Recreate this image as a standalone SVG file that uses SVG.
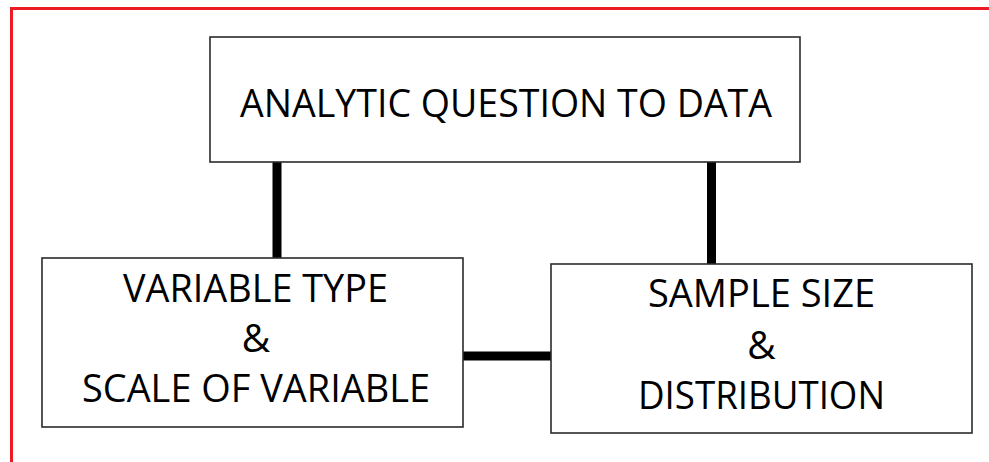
<svg xmlns="http://www.w3.org/2000/svg" width="989" height="462" viewBox="0 0 989 462">
<style>
.box{fill:#fff;stroke:#2b2b2b;stroke-width:1.6}
.lbl{font-family:"Open Sans","Liberation Sans",sans-serif;font-size:39px;fill:#000;text-anchor:middle}
.con{stroke:#000;stroke-width:9;fill:none}
</style>
<rect x="0" y="0" width="989" height="462" fill="#fff"/>
<rect x="11.5" y="8.5" width="1000" height="500" fill="none" stroke="#ed1c24" stroke-width="3"/>
<g id="connectors">
<line class="con" x1="277" y1="162" x2="277" y2="258"/>
<line class="con" x1="711.5" y1="162" x2="711.5" y2="264"/>
<line class="con" x1="462" y1="356" x2="551" y2="356" stroke-width="8"/>
</g>
<g id="node-top">
<rect class="box" x="210" y="37" width="590" height="125"/>
<text class="lbl" x="506" y="117" textLength="532" lengthAdjust="spacingAndGlyphs">ANALYTIC QUESTION TO DATA</text>
</g>
<g id="node-left">
<rect class="box" x="42" y="258" width="421" height="169"/>
<text class="lbl" x="255.5" y="302" textLength="265" lengthAdjust="spacingAndGlyphs">VARIABLE TYPE</text>
<text class="lbl" x="256" y="352">&amp;</text>
<text class="lbl" x="256" y="402" textLength="348" lengthAdjust="spacingAndGlyphs">SCALE OF VARIABLE</text>
</g>
<g id="node-right">
<rect class="box" x="551" y="264" width="421" height="169"/>
<text class="lbl" x="761.5" y="307" textLength="227" lengthAdjust="spacingAndGlyphs">SAMPLE SIZE</text>
<text class="lbl" x="761.5" y="359">&amp;</text>
<text class="lbl" x="761.5" y="409" textLength="247" lengthAdjust="spacingAndGlyphs">DISTRIBUTION</text>
</g>
</svg>
